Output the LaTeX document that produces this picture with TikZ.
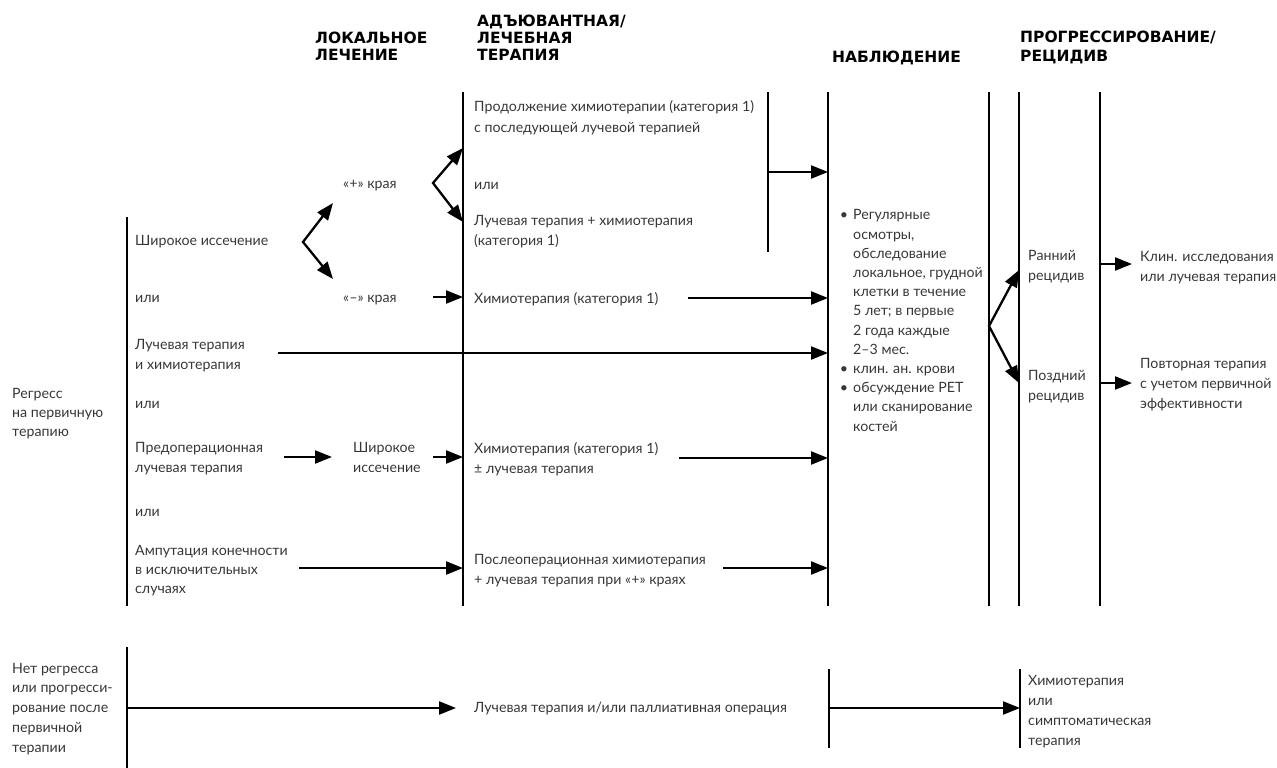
\documentclass[tikz,border=0pt]{standalone}
\usepackage{fontspec}
\setmainfont{Lato}
\newfontfamily\hdrfont{DejaVu Sans}
\usetikzlibrary{arrows.meta}
\definecolor{txtcol}{RGB}{55,55,55}
\begin{document}
\begin{tikzpicture}[x=1pt,y=-1pt,
  bar/.style={line width=2.3pt},
  arr/.style={line width=2.3pt,-{Triangle[length=17pt,width=13pt]}},
  varr/.style={line width=2.3pt,{Triangle[length=17pt,width=13pt]}-{Triangle[length=17pt,width=13pt]}},
  txt/.style={anchor=base west,inner sep=0pt,align=left,text=txtcol,font=\fontsize{14.2}{19.2}\selectfont},
  hdr/.style={anchor=base west,inner sep=0pt,align=left,font=\hdrfont\bfseries\fontsize{15.5}{16.5}\selectfont}]
\useasboundingbox (0,0) rectangle (1277,768);

% headers (anchor = baseline of last line)
\node[hdr,font=\hdrfont\bfseries\fontsize{15.5}{17}\selectfont] (hLoc) at (315,60) {ЛОКАЛЬНОЕ\\ЛЕЧЕНИЕ};
\node[hdr] (hAdj) at (477,60) {АДЪЮВАНТНАЯ/\\ЛЕЧЕБНАЯ\\ТЕРАПИЯ};
\node[hdr] (hObs) at (832,63) {НАБЛЮДЕНИЕ};
\node[hdr,font=\hdrfont\bfseries\fontsize{15.5}{19}\selectfont] (hPrg) at (1020,62) {ПРОГРЕССИРОВАНИЕ/\\РЕЦИДИВ};

% bar coordinates
\coordinate (b1t) at (127,217); \coordinate (b1b) at (127,606);
\coordinate (b2t) at (463,92);  \coordinate (b2b) at (463,606);
\coordinate (b2xt) at (768,92); \coordinate (b2xb) at (768,252);
\coordinate (b3t) at (828,92);  \coordinate (b3b) at (828,606);
\coordinate (b4t) at (989,92);  \coordinate (b4b) at (989,606);
\coordinate (b5t) at (1019,92); \coordinate (b5b) at (1019,606);
\coordinate (b6t) at (1100,92); \coordinate (b6b) at (1100,606);
\coordinate (c1t) at (127,647); \coordinate (c1b) at (127,768);
\coordinate (c2t) at (829,669); \coordinate (c2b) at (829,748);
\coordinate (c3t) at (1020,669); \coordinate (c3b) at (1020,748);
\foreach \a in {b1,b2,b2x,b3,b4,b5,b6,c1,c2,c3} \draw[bar] (\a t) -- (\a b);

% left texts
\node[txt,font=\fontsize{14.2}{19}\selectfont] (regr) at (12,436) {Регресс\\на первичную\\терапию};
\node[txt] (wide) at (135,245) {Широкое иссечение};
\node[txt] (or1) at (135,302) {или};
\node[txt] (rt) at (135,369) {Лучевая терапия\\и химиотерапия};
\node[txt] (or2) at (135,408) {или};
\node[txt] (preop) at (135,472) {Предоперационная\\лучевая терапия};
\node[txt] (or3) at (135,516) {или};
\node[txt,font=\fontsize{14.2}{18.6}\selectfont] (amp) at (135,593) {Ампутация конечности\\в исключительных\\случаях};
\node[txt] (plus) at (343,188) {«+» края};
\node[txt] (minus) at (343,302) {«–» края};
\node[txt] (wide2) at (353,472) {Широкое\\иссечение};

% adjuvant texts
\node[txt,font=\fontsize{14.2}{21}\selectfont] (cont) at (474,132) {Продолжение химиотерапии (категория 1)\\с последующей лучевой терапией};
\node[txt] (or4) at (474,189) {или};
\node[txt] (rtch) at (474,245) {Лучевая терапия + химиотерапия\\(категория 1)};
\node[txt] (ch1) at (474,303) {Химиотерапия (категория 1)};
\node[txt] (ch2) at (474,473) {Химиотерапия (категория 1)\\± лучевая терапия};
\node[txt] (post) at (474,584) {Послеоперационная химиотерапия\\+ лучевая терапия при «+» краях};

% observation
\node[txt] (obs) at (853,431) {\llap{•\hspace{5pt}}Регулярные\\осмотры,\\обследование\\локальное, грудной\\клетки в течение\\5 лет; в первые\\2 года каждые\\2–3 мес.\\\llap{•\hspace{5pt}}клин. ан. крови\\\llap{•\hspace{5pt}}обсуждение PET\\или сканирование\\костей};

% progression
\node[txt] (early) at (1028,280) {Ранний\\рецидив};
\node[txt] (late) at (1028,400) {Поздний\\рецидив};
\node[txt] (clin) at (1140,281) {Клин. исследования\\или лучевая терапия};
\node[txt,font=\fontsize{14.2}{20}\selectfont] (rep) at (1140,408) {Повторная терапия\\с учетом первичной\\эффективности};

% bottom
\node[txt,font=\fontsize{14.2}{19.75}\selectfont] (noreg) at (12,752) {Нет регресса\\или прогресси-\\рование после\\первичной\\терапии};
\node[txt] (pall) at (474,712) {Лучевая терапия и/или паллиативная операция};
\node[txt,font=\fontsize{14.2}{19.7}\selectfont] (symp) at (1028,745) {Химиотерапия\\или\\симптоматическая\\терапия};

% arrow coordinates
\coordinate (v1) at (303,242); \coordinate (v1u) at (333,203); \coordinate (v1d) at (333,279);
\coordinate (v2) at (433,183); \coordinate (v2u) at (463,148); \coordinate (v2d) at (463,222);
\coordinate (v3) at (989,326); \coordinate (v3u) at (1019,270); \coordinate (v3d) at (1019,383);
\draw[varr] (v1u) -- (v1) -- (v1d);
\draw[varr] (v2u) -- (v2) -- (v2d);
\draw[varr] (v3u) -- (v3) -- (v3d);

\coordinate (m1) at (433,297);  \coordinate (m1e) at (463,297);
\coordinate (k1) at (768,172);  \coordinate (k1e) at (828,172);
\coordinate (k2) at (688,298);  \coordinate (k2e) at (828,298);
\coordinate (k3) at (278,353);  \coordinate (k3e) at (828,353);
\coordinate (p1) at (284,457);  \coordinate (p1e) at (332,457);
\coordinate (p2) at (433,457);  \coordinate (p2e) at (463,457);
\coordinate (k4) at (679,458);  \coordinate (k4e) at (828,458);
\coordinate (a1) at (299,568);  \coordinate (a1e) at (463,568);
\coordinate (k5) at (723,568);  \coordinate (k5e) at (828,568);
\coordinate (r1) at (1100,264); \coordinate (r1e) at (1132,264);
\coordinate (r2) at (1100,383); \coordinate (r2e) at (1132,383);
\coordinate (n1) at (127,708);  \coordinate (n1e) at (456,708);
\coordinate (n2) at (829,708);  \coordinate (n2e) at (1020,708);
\foreach \a in {m1,k1,k2,k3,p1,p2,k4,a1,k5,r1,r2,n1,n2} \draw[arr] (\a) -- (\a e);
\end{tikzpicture}
\end{document}
